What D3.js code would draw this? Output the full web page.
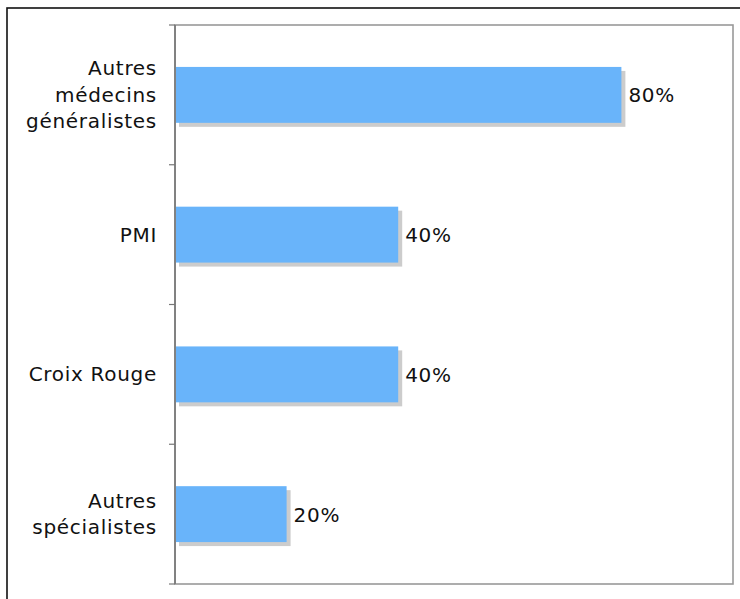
<!DOCTYPE html>
<html><head><meta charset="utf-8">
<script src="https://cdn.jsdelivr.net/npm/d3@7"></script>
<style>body{margin:0;background:#fff}svg{display:block}</style>
</head><body>
<svg id="c" width="740" height="599"></svg>
<script>
const categories = [["Autres","médecins","généralistes"],["PMI"],["Croix Rouge"],["Autres","spécialistes"]];
const values = [80, 40, 40, 20];
const valueLabels = ["80%","40%","40%","20%"];

const svg = d3.select("#c");
const font = "Verdana, 'DejaVu Sans', sans-serif";
const L = 175, R = 733, T = 25, B = 584;

svg.append("rect").attr("x",7).attr("y",8).attr("width",760).attr("height",620)
  .attr("fill","none").attr("stroke","#111").attr("stroke-width",1.6);

const x = d3.scaleLinear().domain([0,100]).range([L,R]);
const y = d3.scaleBand().domain(d3.range(categories.length)).range([T,B]).paddingInner(0.6).paddingOuter(0.3);

// frame
svg.append("rect").attr("x",L).attr("y",T).attr("width",R-L).attr("height",B-T)
  .attr("fill","none").attr("stroke","#999").attr("stroke-width",1.6);

// ticks at band boundaries
const bounds = d3.range(categories.length+1).map(i => T + i*(B-T)/categories.length);
svg.selectAll(".tk").data(bounds).join("line")
  .attr("x1",L-6).attr("x2",L).attr("y1",d=>d).attr("y2",d=>d)
  .attr("stroke","#777").attr("stroke-width",1.2);
svg.append("line").attr("x1",L).attr("x2",L).attr("y1",T).attr("y2",B)
  .attr("stroke","#777").attr("stroke-width",1.6);

const g = svg.append("g");
g.selectAll(".sh").data(values).join("rect")
  .attr("x",L+4).attr("y",(d,i)=>y(i)+4)
  .attr("width",d=>x(d)-L).attr("height",y.bandwidth())
  .attr("fill","#cccccc");
g.selectAll(".bar").data(values).join("rect")
  .attr("x",L+1).attr("y",(d,i)=>y(i))
  .attr("width",d=>x(d)-L-1).attr("height",y.bandwidth())
  .attr("fill","#69b4fa");

g.selectAll(".vl").data(values).join("text")
  .attr("x",d=>x(d)+7).attr("y",(d,i)=>y(i)+y.bandwidth()/2+7.5)
  .attr("font-family",font).attr("font-size",20).attr("letter-spacing",0.7).attr("fill","#111")
  .text((d,i)=>valueLabels[i]);

const lh = 26.5;
categories.forEach((lines,i)=>{
  const cy = y(i)+y.bandwidth()/2;
  const t = svg.append("text").attr("text-anchor","end")
    .attr("font-family",font).attr("font-size",20).attr("letter-spacing",0.7).attr("fill","#111");
  lines.forEach((ln,j)=>{
    t.append("tspan").attr("x",L-18)
      .attr("y", cy + 7 + (j-(lines.length-1)/2)*lh).text(ln);
  });
});
</script>
</body></html>
